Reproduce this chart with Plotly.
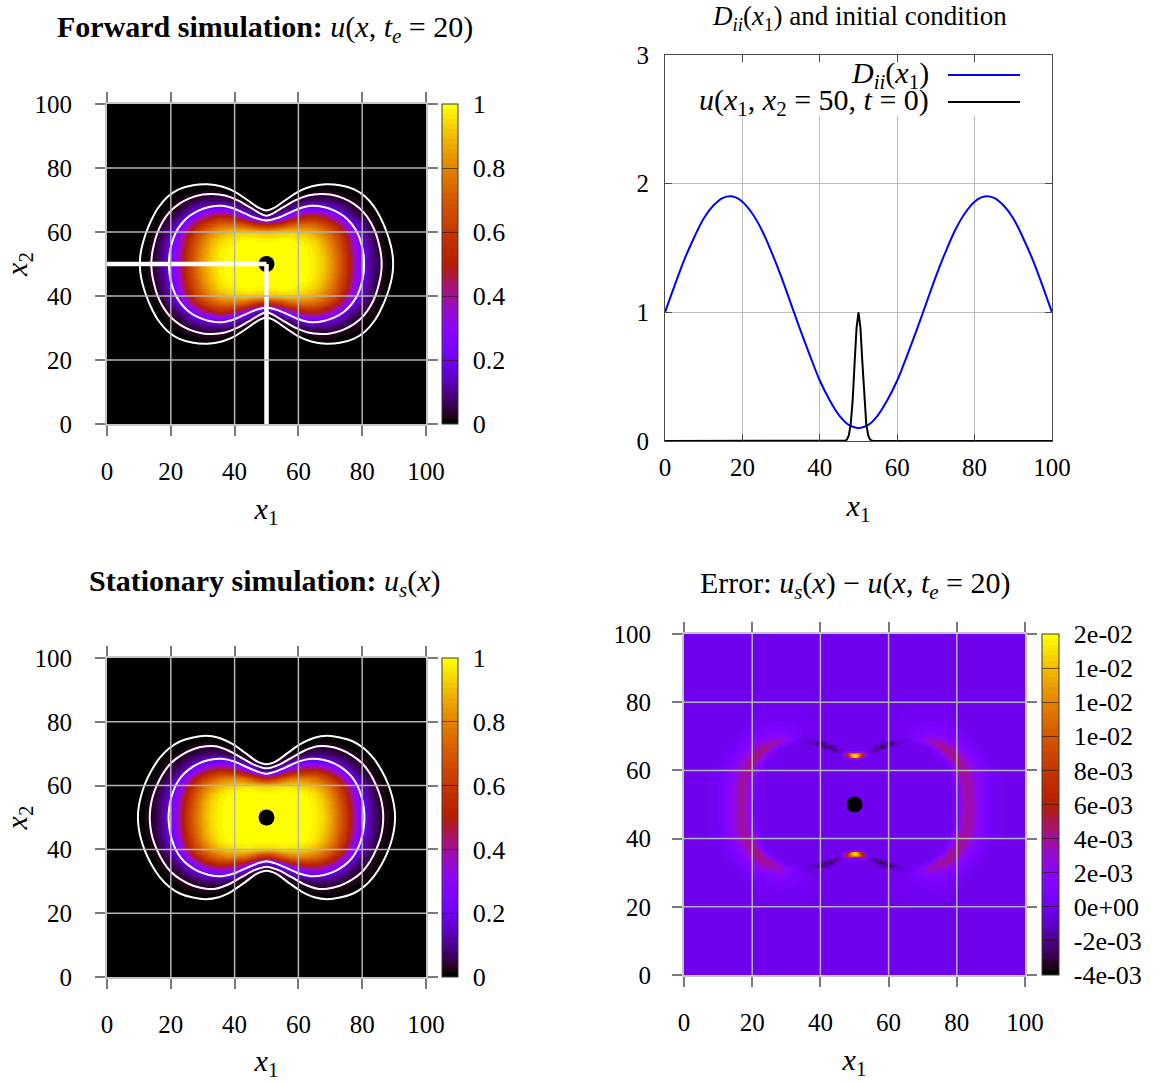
import math
import numpy as np
import plotly.graph_objects as go

W, H = 1162, 1082
FONT = "Liberation Serif"
TICK_SIZE = 25
CB_SIZE = 26
TEXT_SIZE = 30

# ---------- data ----------
GRID_X = [7.5, 10, 12.5, 15, 17.5, 20, 22.5, 25, 27.5, 30, 32.5, 35, 37.5, 40, 42.5, 45, 47.5, 50]
GRID_Y = [50, 52.5, 55, 57.5, 60, 62.5, 65, 67.5, 70, 72.5, 75, 77.5]

FORWARD_Z = [
    [0, .004, .015, .05, .11, .22, .38, .58, .73, .85, .93, .97, .99, 1, 1, 1, 1, 1],
    [0, .003, .014, .048, .108, .215, .375, .575, .725, .84, .92, .97, .99, 1, 1, 1, 1, 1],
    [0, 0, .01, .04, .1, .2, .35, .55, .7, .82, .9, .96, .985, .995, 1, 1, 1, 1],
    [0, 0, .008, .03, .085, .175, .32, .52, .67, .78, .87, .93, .96, .975, .985, .985, .98, .98],
    [0, 0, .004, .02, .07, .14, .26, .44, .6, .72, .8, .86, .9, .92, .93, .93, .92, .9],
    [0, 0, 0, .01, .035, .09, .17, .32, .47, .58, .66, .72, .73, .72, .68, .6, .52, .5],
    [0, 0, 0, .006, .02, .045, .085, .15, .27, .38, .46, .52, .5, .42, .32, .19, .1, .05],
    [0, 0, 0, .004, .009, .02, .037, .08, .13, .17, .195, .22, .2, .16, .09, .037, .015, .007],
    [0, 0, 0, 0, .005, .012, .02, .03, .05, .065, .075, .075, .06, .035, .012, .003, 0, 0],
    [0, 0, 0, 0, 0, .004, .008, .012, .016, .02, .021, .019, .011, .005, .002, 0, 0, 0],
    [0, 0, 0, 0, 0, 0, .001, .002, .003, .004, .004, .003, .001, 0, 0, 0, 0, 0],
    [0, 0, 0, 0, 0, 0, 0, 0, 0, 0, 0, 0, 0, 0, 0, 0, 0, 0],
]
STATIONARY_Z = [
    [0, .006, .02, .05, .12, .23, .4, .6, .75, .87, .95, .98, .995, 1, 1, 1, 1, 1],
    [0, .006, .019, .048, .115, .22, .39, .59, .74, .86, .94, .98, .995, 1, 1, 1, 1, 1],
    [0, .005, .018, .045, .11, .21, .37, .57, .72, .85, .93, .975, .99, 1, 1, 1, 1, 1],
    [0, .003, .012, .035, .09, .18, .33, .53, .69, .81, .9, .96, .985, .99, .995, .995, .99, .99],
    [0, .001, .008, .025, .07, .145, .27, .45, .62, .75, .83, .89, .93, .95, .96, .96, .95, .94],
    [0, 0, .004, .013, .04, .09, .17, .32, .48, .6, .69, .75, .78, .78, .75, .68, .57, .52],
    [0, 0, .001, .007, .024, .05, .09, .17, .28, .39, .47, .52, .5, .46, .38, .24, .11, .06],
    [0, 0, 0, .005, .012, .027, .045, .085, .13, .18, .215, .24, .23, .185, .11, .045, .018, .003],
    [0, 0, 0, .001, .006, .013, .022, .032, .05, .07, .08, .08, .06, .03, .008, .002, 0, 0],
    [0, 0, 0, 0, 0, .004, .009, .014, .02, .026, .027, .024, .014, .005, .001, 0, 0, 0],
    [0, 0, 0, 0, 0, 0, .001, .003, .005, .006, .005, .003, .001, 0, 0, 0, 0, 0],
    [0, 0, 0, 0, 0, 0, 0, 0, 0, 0, 0, 0, 0, 0, 0, 0, 0, 0],
]

ERR_X = [0, 6, 10, 12, 14, 15.5, 17, 18.5, 20, 22, 24, 26, 28, 30, 32, 34, 36, 38, 40, 42, 44, 45, 46, 47, 48, 49, 50]
ERR_Y = [50, 56, 60, 62, 63, 63.5, 64, 64.5, 65, 65.5, 66, 67, 68, 69, 70, 72, 75, 80, 100]
ERR_Z_MILLI = [
    [0, 0, .3, .9, 2, 3.3, 3.8, 3, .4, 0, 0, 0, 0, 0, 0, 0, 0, 0, 0, 0, 0, 0, 0, 0, 0, 0, 0],
    [0, 0, .3, .9, 2, 3.3, 3.9, 3.5, .7, 0, 0, 0, 0, 0, 0, 0, 0, 0, 0, 0, 0, 0, 0, 0, 0, 0, 0],
    [0, 0, .2, .6, 1.5, 2.6, 3.6, 4.1, 3.8, .4, 0, 0, 0, 0, 0, 0, 0, 0, 0, 0, 0, 0, 0, 0, 0, 0, 0],
    [0, 0, .1, .4, 1, 1.8, 2.9, 3.9, 4.5, 1.5, 0, 0, 0, 0, 0, 0, 0, 0, 0, 0, 0, 0, 0, 0, 0, 0, 0],
    [0, 0, 0, .3, .8, 1.5, 2.4, 3.5, 4.5, 3.3, .3, 0, 0, 0, 0, 0, 0, 0, 0, 0, 0, 0, 0, 0, 0, 0, .3],
    [0, 0, 0, .25, .7, 1.3, 2.1, 3.2, 4.4, 3.7, .6, 0, 0, 0, 0, 0, 0, 0, 0, 0, 0, 0, 0, 0, .5, 3, 5],
    [0, 0, 0, .2, .6, 1.1, 1.9, 2.9, 4.3, 4.1, .9, 0, 0, 0, 0, 0, 0, 0, 0, 0, 0, 0, 0, 1, 5.5, 11, 15],
    [0, 0, 0, .15, .5, 1, 1.7, 2.6, 4, 4.3, 1.7, 0, 0, 0, 0, 0, 0, 0, 0, 0, 0, 0, 0, 2.5, 8, 13, 16],
    [0, 0, 0, .1, .4, .9, 1.5, 2.3, 3.6, 4.4, 2.7, .3, 0, 0, 0, 0, 0, 0, 0, 0, 0, -.2, .5, 4, 8.5, 11, 11.5],
    [0, 0, 0, .1, .35, .75, 1.3, 2, 3.2, 4.3, 3.5, .7, 0, 0, 0, 0, 0, 0, 0, 0, -.4, -1, -.3, 1.5, 2.5, 3, 3],
    [0, 0, 0, .05, .3, .6, 1.1, 1.8, 2.9, 4.1, 4.2, 1.1, 0, 0, 0, 0, 0, 0, 0, 0, -2, -1.5, -.4, 0, .2, .3, .3],
    [0, 0, 0, 0, .2, .4, .8, 1.3, 2.2, 3.4, 4.1, 3.6, .6, 0, 0, 0, 0, 0, -.5, -3, -1.5, -.5, 0, 0, 0, 0, 0],
    [0, 0, 0, 0, .1, .25, .6, .95, 1.6, 2.5, 3.4, 3.8, 3.2, .9, .2, 0, -.3, -1.5, -3, -1.2, 0, 0, 0, 0, 0, 0, 0],
    [0, 0, 0, 0, 0, .15, .4, .7, 1.1, 1.7, 2.3, 3, 3.2, 2.3, .9, -.1, -.8, -.5, 0, 0, 0, 0, 0, 0, 0, 0, 0],
    [0, 0, 0, 0, 0, 0, .25, .45, .7, 1.1, 1.5, 1.9, 2.1, 1.6, .9, .4, .15, 0, 0, 0, 0, 0, 0, 0, 0, 0, 0],
    [0, 0, 0, 0, 0, 0, 0, .1, .25, .5, .7, .8, .8, .7, .6, .4, .25, .1, 0, 0, 0, 0, 0, 0, 0, 0, 0],
    [0, 0, 0, 0, 0, 0, 0, 0, 0, .1, .2, .3, .3, .3, .25, .15, .1, 0, 0, 0, 0, 0, 0, 0, 0, 0, 0],
    [0] * 27,
    [0] * 27,
]

# white iso-lines, upper left part (x1 <= 50, x2 >= 50)
FW_OUTER_X = [10.3, 10.5, 11.1, 12.2, 13.8, 16, 19, 22.5, 27, 31.5, 36, 40, 44, 47.5, 50]
FW_OUTER_Y = [50, 53, 56, 59.6, 63.5, 67.5, 71, 73.3, 74.6, 74.9, 74.2, 72.6, 70, 67.6, 66.7]
FW_MIDDLE_X = [13.9, 14.1, 14.7, 15.7, 17.3, 19.6, 22.5, 26, 30, 33, 37, 41, 45, 48, 50]
FW_MIDDLE_Y = [50, 53, 56, 59.5, 63, 66.2, 68.7, 70.6, 71.7, 71.9, 71.4, 69.9, 67.6, 65.8, 65.1]
FW_INNER_X = [19.4, 19.6, 20.3, 21.5, 23.3, 25.7, 28.7, 32, 36, 39.5, 43, 46.5, 50]
FW_INNER_Y = [50, 53, 56.5, 59.7, 62.5, 64.9, 66.7, 67.8, 68.2, 67.4, 65.9, 64.4, 63.6]

ST_OUTER_X = [9.7, 9.9, 10.6, 11.9, 13.8, 16.4, 19.5, 23, 27, 31, 35, 39, 43, 47, 50]
ST_OUTER_Y = [50, 53, 56.5, 60.5, 64.5, 68.5, 71.7, 73.9, 75.1, 75.6, 75, 73.2, 70.5, 67.6, 66.7]
ST_MIDDLE_X = [13.4, 13.6, 14.3, 15.6, 17.5, 20, 23.2, 27, 31, 34, 38, 42, 46, 50]
ST_MIDDLE_Y = [50, 53, 56.5, 60, 63.7, 67, 69.5, 71.4, 72.3, 72.3, 71, 68.8, 66.6, 65.4]
ST_INNER_X = [19.3, 19.5, 20.2, 21.5, 23.3, 25.6, 28.5, 32, 36, 40, 44, 47.5, 50]
ST_INNER_Y = [50, 53, 56.5, 60, 62.8, 65, 66.8, 68, 68.4, 67.5, 65.7, 64.3, 63.7]

# middle panel curves
D_X = [0, 2.5, 5, 7.5, 10, 12.5, 15, 17.5, 20, 22.5, 25, 27.5, 30, 32.5, 35, 37.5, 40, 42.5, 45, 47.5, 50,
       52.5, 55, 57.5, 60, 62.5, 65, 67.5, 70, 72.5, 75, 77.5, 80, 82.5, 85, 87.5, 90, 92.5, 95, 97.5, 100]
D_VALUES = [1.00, 1.21, 1.41, 1.58, 1.73, 1.83, 1.89, 1.90, 1.86, 1.77, 1.64, 1.47, 1.28, 1.07, .86, .66, .47, .32, .20, .125, .10,
            .125, .20, .32, .47, .66, .86, 1.07, 1.28, 1.47, 1.64, 1.77, 1.86, 1.90, 1.89, 1.83, 1.73, 1.58, 1.41, 1.21, 1.00]
U0_X = [0, 46, 46.5, 47, 47.5, 48, 48.5, 49, 49.5, 50, 50.5, 51, 51.5, 52, 52.5, 53, 53.5, 54, 100]
U0_VALUES = [0, 0, .002, .011, .044, .135, .32, .61, .88, 1, .88, .61, .32, .135, .044, .011, .002, 0, 0]

TICKS_2D = [0, 20, 40, 60, 80, 100]
CB_U_VALS = [0, .2, .4, .6, .8, 1]
CB_U_TEXT = ["0", "0.2", "0.4", "0.6", "0.8", "1"]
CB_E_VALS = [-.004, -.002, 0, .002, .004, .006, .008, .010, .012, .014, .016]
CB_E_TEXT = ["-4e-03", "-2e-03", "0e+00", "2e-03", "4e-03", "6e-03", "8e-03", "1e-02", "1e-02", "1e-02", "2e-02"]

# ---------- helpers ----------
def px(x):
    return x / W

def py(y):
    return 1 - y / H

def palette(n=64):
    stops = []
    for i in range(n):
        g = i / (n - 1)
        r, gg, b = math.sqrt(g), g ** 3, max(0, math.sin(2 * math.pi * g))
        c = f"rgb({int(r*255)},{int(gg*255)},{int(b*255)})"
        stops += [[i / n, c], [(i + 1) / n, c]]
    return stops

def mirror_field(xs, ys, rows, pad):
    a = np.array(rows, dtype=float)
    full = np.hstack([a, a[:, -2::-1]])
    full = np.vstack([full[:0:-1], full])
    fx = list(xs) + [100 - v for v in xs[-2::-1]]
    fy = [100 - v for v in ys[:0:-1]] + list(ys)
    if pad:
        full = np.pad(full, 2, constant_values=0)
        fx = [0, 5] + fx + [95, 100]
        fy = [0, 20] + fy + [80, 100]
    return fx, fy, full

def closed(xs, ys):
    ax, ay = list(xs), list(ys)
    ux = ax + [100 - v for v in ax[-2::-1]]
    uy = ay + ay[-2::-1]
    lx = ux[-2::-1]
    ly = [100 - v for v in uy[-2::-1]]
    return ux + lx, uy + ly

PAL = palette()
fig = go.Figure()

PANELS = {
    "1": dict(l=107, r=426, t=104, b=424),
    "2": dict(l=665, r=1052, t=55, b=441),
    "3": dict(l=107, r=426, t=658, b=977),
    "4": dict(l=684, r=1025, t=634, b=975),
}

def colorbar(x0, top, bottom, vals, text, width=16):
    return dict(
        x=px(x0), xanchor="left", xpad=0, y=py((top + bottom) / 2), yanchor="middle", ypad=0,
        thickness=width, thicknessmode="pixels", len=bottom - top, lenmode="pixels",
        outlinecolor="#3a3a3a", outlinewidth=1,
        tickmode="array", tickvals=vals, ticktext=["\u2004" + t for t in text], ticks="inside", ticklen=width,
        tickcolor="rgba(40,20,0,0.65)", tickwidth=1,
        tickfont=dict(family=FONT, size=CB_SIZE, color="black"),
    )

def add_field(n, xs, ys, z, zmin, zmax, cb, name):
    fig.add_trace(go.Heatmap(
        x=xs, y=ys, z=z, zmin=zmin, zmax=zmax, colorscale=PAL, zsmooth="best", name=name,
        colorbar=cb, xaxis="x" + n, yaxis="y" + n, hoverinfo="skip",
    ))

def add_iso(n, xs, ys, name):
    cx, cy = closed(xs, ys)
    fig.add_trace(go.Scatter(
        x=cx, y=cy, mode="lines", name=name, xaxis="x" + n, yaxis="y" + n,
        line=dict(color="white", width=2, shape="spline", smoothing=0.8),
    ))

def add_dot(n):
    fig.add_trace(go.Scatter(
        x=[50], y=[50], mode="markers", name="source", xaxis="x" + n, yaxis="y" + n,
        marker=dict(color="black", size=16, line=dict(width=0)),
    ))

# panel 1
fx, fy, fz = mirror_field(GRID_X, GRID_Y, FORWARD_Z, True)
add_field("1", fx, fy, fz, 0, 1, colorbar(442, 104, 424, CB_U_VALS, CB_U_TEXT), "u(x, te=20)")
add_iso("1", FW_OUTER_X, FW_OUTER_Y, "iso outer")
add_iso("1", FW_MIDDLE_X, FW_MIDDLE_Y, "iso middle")
add_iso("1", FW_INNER_X, FW_INNER_Y, "iso inner")
add_dot("1")
fig.add_trace(go.Scatter(x=[0, 50], y=[50, 50], mode="lines", name="section x2", xaxis="x1", yaxis="y1",
                         line=dict(color="white", width=4.5)))
fig.add_trace(go.Scatter(x=[50, 50], y=[0, 50], mode="lines", name="section x1", xaxis="x1", yaxis="y1",
                         line=dict(color="white", width=4.5)))

# panel 2
fig.add_trace(go.Scatter(x=D_X, y=D_VALUES, mode="lines", name="D_ii(x1)", xaxis="x2", yaxis="y2",
                         line=dict(color="#0000ff", width=2, shape="spline", smoothing=1.0)))
fig.add_trace(go.Scatter(x=U0_X, y=U0_VALUES, mode="lines", name="u(x1,x2=50,t=0)", xaxis="x2", yaxis="y2",
                         line=dict(color="black", width=2)))

# panel 3
sx, sy, sz = mirror_field(GRID_X, GRID_Y, STATIONARY_Z, True)
add_field("3", sx, sy, sz, 0, 1, colorbar(442, 658, 977, CB_U_VALS, CB_U_TEXT), "us(x)")
add_iso("3", ST_OUTER_X, ST_OUTER_Y, "iso outer")
add_iso("3", ST_MIDDLE_X, ST_MIDDLE_Y, "iso middle")
add_iso("3", ST_INNER_X, ST_INNER_Y, "iso inner")
add_dot("3")

# panel 4
ex, ey, ez = mirror_field(ERR_X, ERR_Y, ERR_Z_MILLI, False)
add_field("4", ex, ey, ez * 1e-3, -.004, .016, colorbar(1042, 634, 975, CB_E_VALS, CB_E_TEXT, 17), "error")
add_dot("4")

# ---------- axes ----------
def axis(anchor, domain, title, standoff, **kw):
    d = dict(
        anchor=anchor, domain=domain, range=[0, 100], tickmode="array", tickvals=TICKS_2D,
        showgrid=False, zeroline=False, showline=True, linecolor="#c4c4c4", linewidth=2, mirror="allticks",
        ticks="outside", ticklen=10, tickwidth=1.5, tickcolor="#7a7a7a",
        tickfont=dict(family=FONT, size=TICK_SIZE, color="black"), ticklabelstandoff=14,
        title=dict(text=title, font=dict(family=FONT, size=TEXT_SIZE, color="black"), standoff=standoff),
    )
    d.update(kw)
    return d

X1 = "<i>x</i><sub>1</sub>"
X2 = "<i>x</i><sub>2</sub>"
layout = dict(
    width=W, height=H, margin=dict(l=0, r=0, t=0, b=0, autoexpand=False), autosize=False, showlegend=False,
    paper_bgcolor="white", plot_bgcolor="white", font=dict(family=FONT, color="black"),
)
for n, p in PANELS.items():
    xd = [px(p["l"]), px(p["r"])]
    yd = [py(p["b"]), py(p["t"])]
    if n == "2":
        common = dict(showgrid=True, gridcolor="#bdbdbd", gridwidth=1.2, linecolor="#4a4a4a", linewidth=1.2,
                      ticks="inside", ticklen=7, tickwidth=1, tickcolor="#4a4a4a", ticklabelstandoff=4)
        layout["xaxis2"] = axis("y2", xd, X1, 14, **common)
        yc = dict(common)
        yc["ticklabelstandoff"] = 10
        layout["yaxis2"] = axis("x2", yd, "", 0, range=[0, 3], tickvals=[0, 1, 2, 3], **yc)
    elif n == "4":
        layout["xaxis4"] = axis("y4", xd, X1, 14)
        layout["yaxis4"] = axis("x4", yd, "", 14, ticklabelstandoff=16)
    else:
        layout["xaxis" + n] = axis("y" + n, xd, X1, 14)
        layout["yaxis" + n] = axis("x" + n, yd, X2, 19, ticklabelstandoff=18)

shapes = []
for n in ("1", "3", "4"):
    for v in TICKS_2D[1:-1]:
        st = dict(type="line", line=dict(color="#b4b4b4", width=1.5), layer="above")
        shapes.append(dict(st, xref="x" + n, yref="y" + n, x0=v, x1=v, y0=0, y1=100))
        shapes.append(dict(st, xref="x" + n, yref="y" + n, x0=0, x1=100, y0=v, y1=v))

# opaque key box of panel 2 and its line samples
shapes.append(dict(type="rect", xref="x2", yref="y2", x0=6.5, x1=96.5, y0=2.53, y1=2.94,
                   fillcolor="white", line=dict(width=0), layer="between"))
for yy, col in ((75, "#0000ff"), (102, "black")):
    shapes.append(dict(type="line", xref="paper", yref="paper", x0=px(948), x1=px(1020), y0=py(yy), y1=py(yy),
                       line=dict(color=col, width=2), layer="above"))
layout["shapes"] = shapes

def note(x, y, text, size=TEXT_SIZE, xanchor="center"):
    return dict(xref="paper", yref="paper", x=px(x), y=py(y), text=text, showarrow=False,
                xanchor=xanchor, yanchor="middle", font=dict(family=FONT, size=size, color="black"))

layout["annotations"] = [
    note(265, 29, "<b>Forward simulation:</b> <i>u</i>(<i>x</i>, <i>t<sub>e</sub></i> = 20)"),
    note(859, 18, "<i>D<sub>ii</sub></i>(<i>x</i><sub>1</sub>) and initial condition", size=27),
    note(265, 583, "<b>Stationary simulation:</b> <i>u<sub>s</sub></i>(<i>x</i>)"),
    note(855, 585, "Error: <i>u<sub>s</sub></i>(<i>x</i>) − <i>u</i>(<i>x</i>, <i>t<sub>e</sub></i> = 20)"),
    note(931, 75, "<i>D<sub>ii</sub></i>(<i>x</i><sub>1</sub>)", xanchor="right"),
    note(931, 102, "<i>u</i>(<i>x</i><sub>1</sub>, <i>x</i><sub>2</sub> = 50, <i>t</i> = 0)", xanchor="right"),
]
fig.update_layout(**layout)
fig.write_html("out.html", config={"displayModeBar": False}, post_script="document.body.style.margin='0';")
